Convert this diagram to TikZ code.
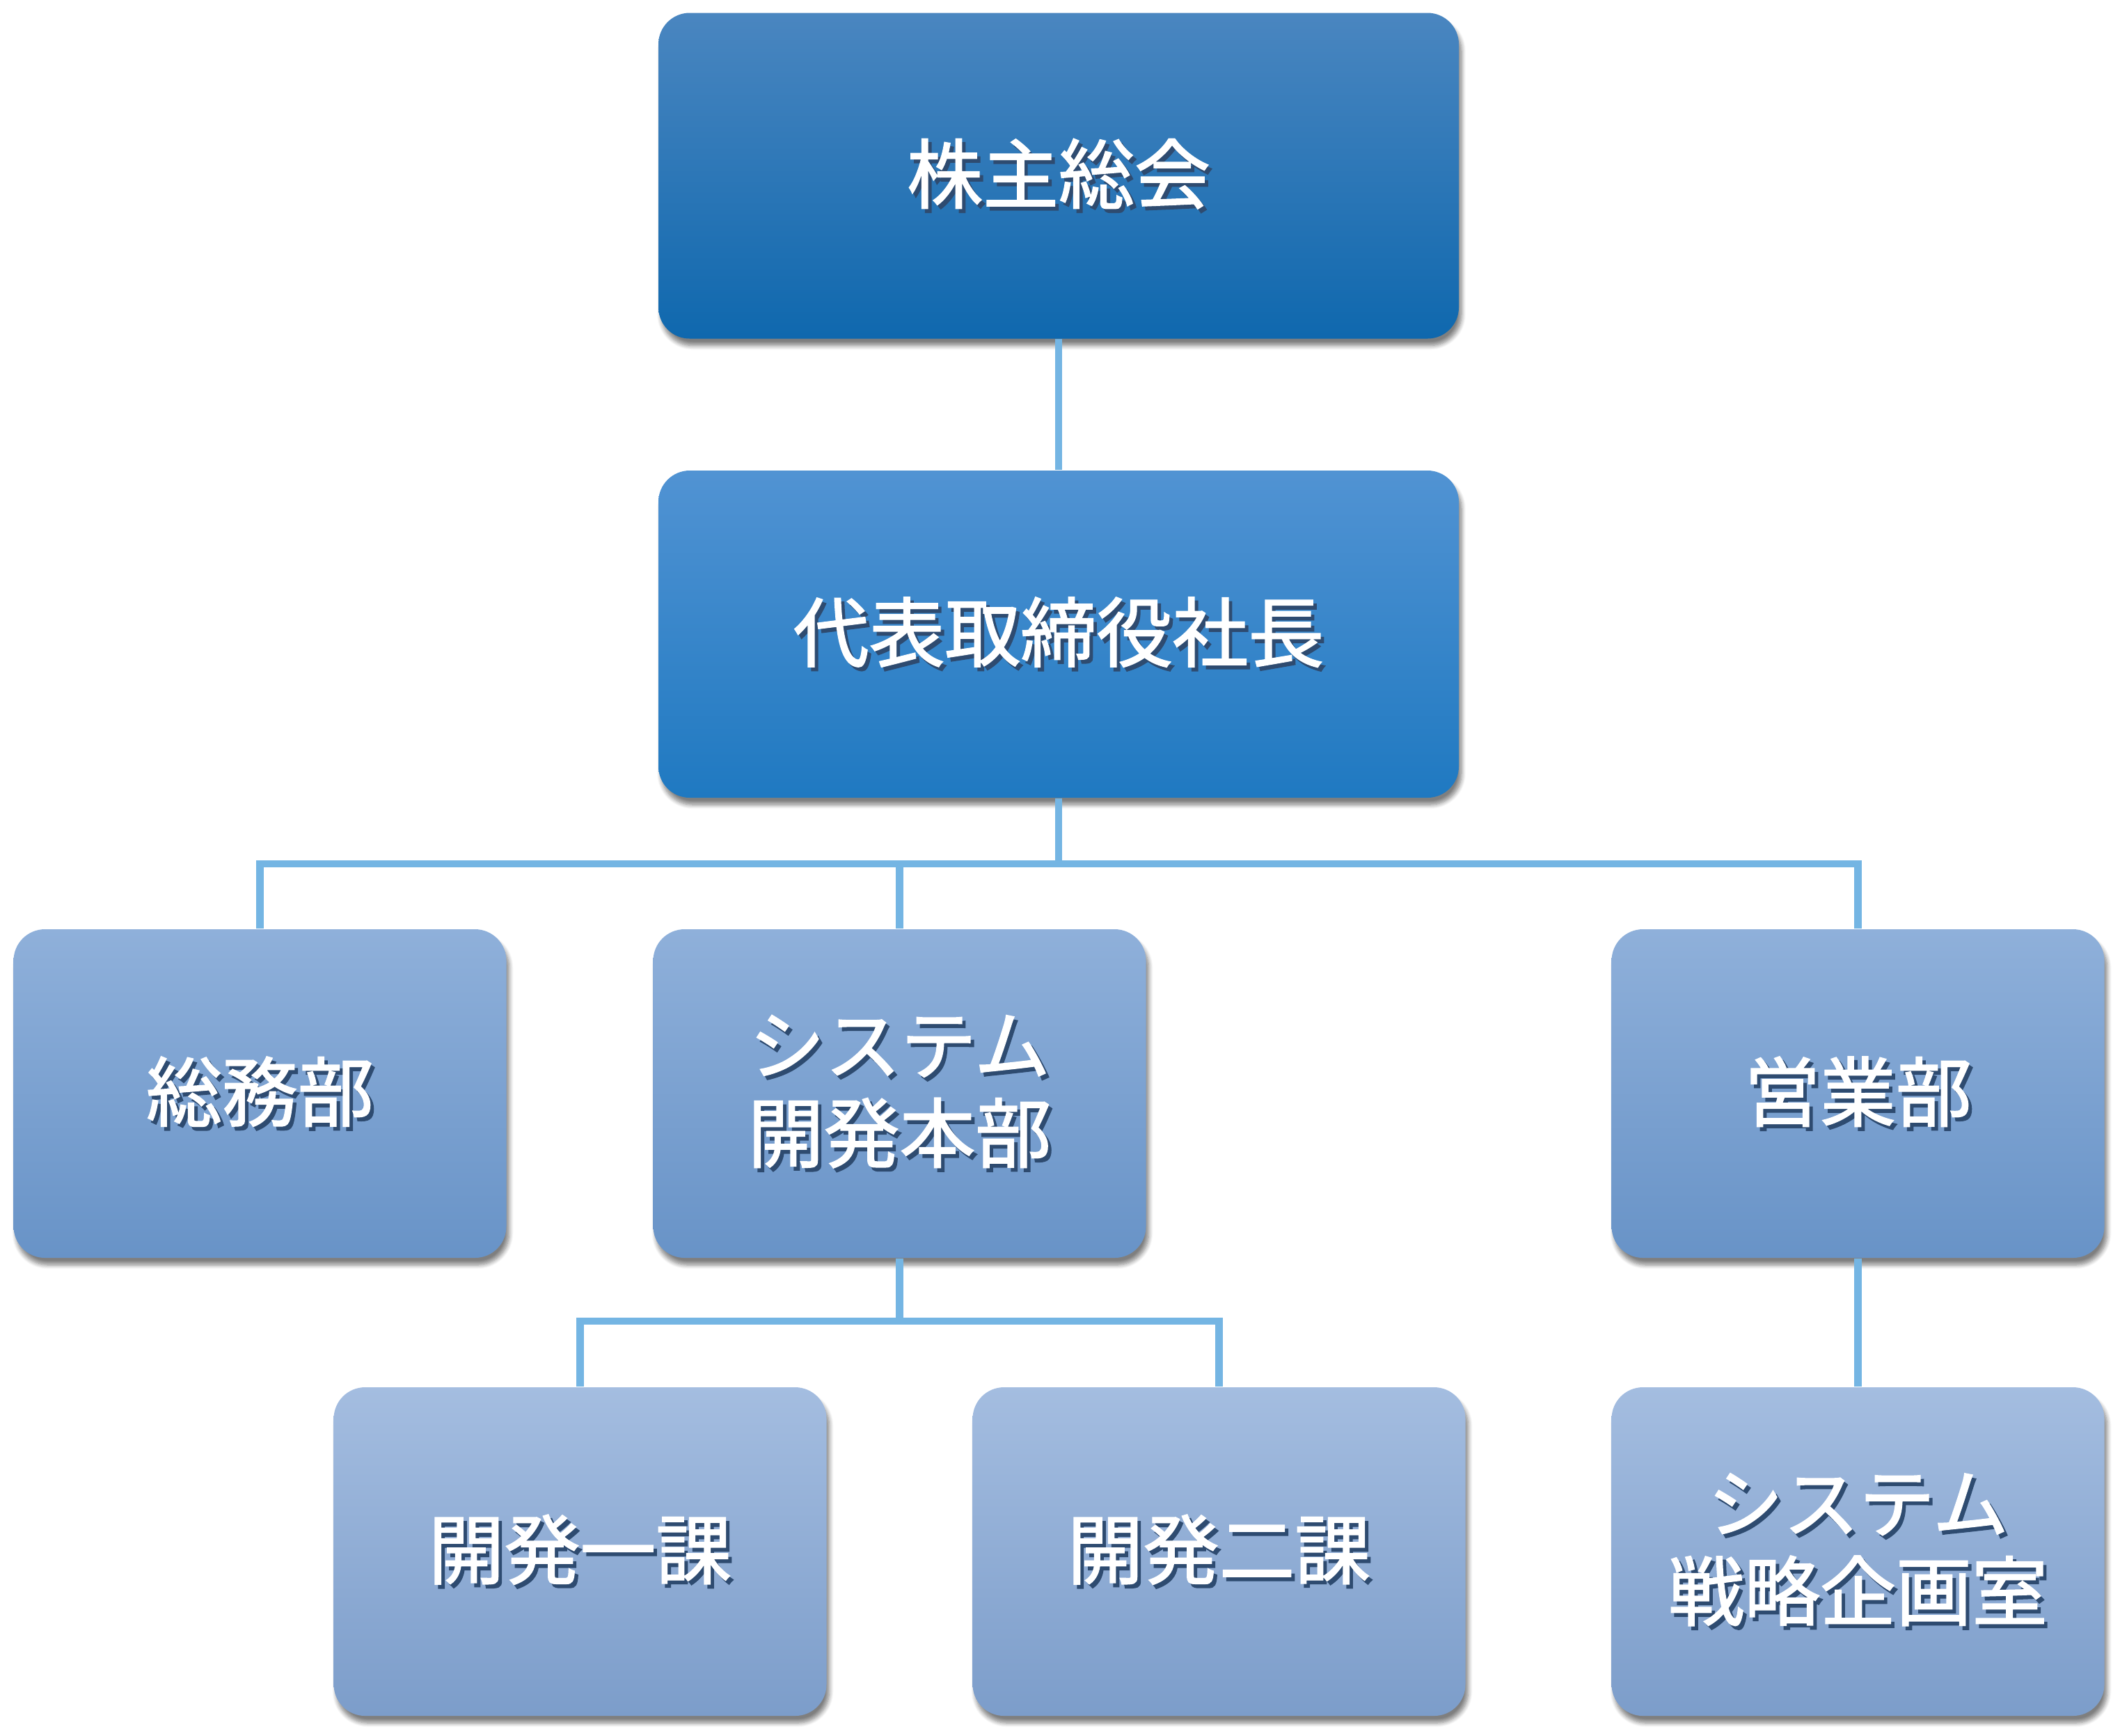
\documentclass[tikz,border=0pt]{standalone}
\usepackage{fontspec}
\newfontfamily\jp[FakeBold=1.6]{Noto Sans CJK JP}
\usetikzlibrary{shadows.blur}

\definecolor{linkblue}{HTML}{74B5E3}
\definecolor{txtshade}{HTML}{2E4B70}
\newcommand{\shtext}[1]{\leavevmode\rlap{\kern1.4pt\raisebox{-1.6pt}{\textcolor{txtshade}{#1}}}#1}

\definecolor{HTML4A86C0}{HTML}{4A86C0}
\definecolor{HTML1A75BA}{HTML}{1A75BA}
\definecolor{HTML0F68AE}{HTML}{0F68AE}
\definecolor{HTML5193D3}{HTML}{5193D3}
\definecolor{HTML2B87CF}{HTML}{2B87CF}
\definecolor{HTML1F79C1}{HTML}{1F79C1}
\definecolor{HTML8FB0DA}{HTML}{8FB0DA}
\definecolor{HTML7BA2D4}{HTML}{7BA2D4}
\definecolor{HTML6893C7}{HTML}{6893C7}
\definecolor{HTMLA4BDE0}{HTML}{A4BDE0}
\definecolor{HTML92AFD8}{HTML}{92AFD8}
\definecolor{HTML7C9DCA}{HTML}{7C9DCA}

\tikzset{
  orgbox/.style={rectangle, rounded corners=0.45cm, minimum width=7.08cm, minimum height=4.72cm,
    text=white, align=center, font=\jp\fontsize{31}{36}\selectfont,
    blur shadow={shadow xshift=0.04cm, shadow yshift=-0.1cm, shadow blur steps=8, shadow opacity=50}},
  topbox/.style={orgbox, minimum width=11.5cm, minimum height=4.68cm,
    top color=HTML4A86C0, middle color=HTML1A75BA, bottom color=HTML0F68AE},
  ceobox/.style={orgbox, minimum width=11.5cm, minimum height=4.7cm,
    top color=HTML5193D3, middle color=HTML2B87CF, bottom color=HTML1F79C1},
  deptbox/.style={orgbox, top color=HTML8FB0DA, middle color=HTML7BA2D4, bottom color=HTML6893C7},
  secbox/.style={orgbox, top color=HTMLA4BDE0, middle color=HTML92AFD8, bottom color=HTML7C9DCA},
  link/.style={draw=linkblue, line width=3.1pt}
}

\begin{document}
\begin{tikzpicture}
  \useasboundingbox (0,0) rectangle (30.46,-24.93);
  % bus points
  \coordinate (bus1) at (15.21,-12.41);
  \coordinate (bus2) at (12.925,-18.98);
  \node[topbox] (kabunushi) at (15.21,-2.525) {\shtext{株主総会}};
  \node[ceobox] (shacho) at (15.21,-9.11) {\shtext{代表取締役社長}};
  \node[deptbox] (soumu) at (3.735,-15.71) {\shtext{総務部}};
  \node[deptbox] (kaihatsu) at (12.925,-15.71) {\shtext{システム}\\\shtext{開発本部}};
  \node[deptbox] (eigyo) at (26.695,-15.71) {\shtext{営業部}};
  \node[secbox] (kaiA) at (8.335,-22.29) {\shtext{開発一課}};
  \node[secbox] (kaiB) at (17.515,-22.29) {\shtext{開発二課}};
  \node[secbox] (senryaku) at (26.695,-22.29) {\shtext{システム}\\\shtext{戦略企画室}};

  \draw[link] (kabunushi.south) -- (shacho.north);
  \draw[link] (shacho.south) -- (bus1) -| (soumu.north);
  \draw[link] (bus1) -| (kaihatsu.north);
  \draw[link] (bus1) -| (eigyo.north);
  \draw[link] (kaihatsu.south) -- (bus2) -| (kaiA.north);
  \draw[link] (bus2) -| (kaiB.north);
  \draw[link] (eigyo.south) -- (senryaku.north);
\end{tikzpicture}
\end{document}
